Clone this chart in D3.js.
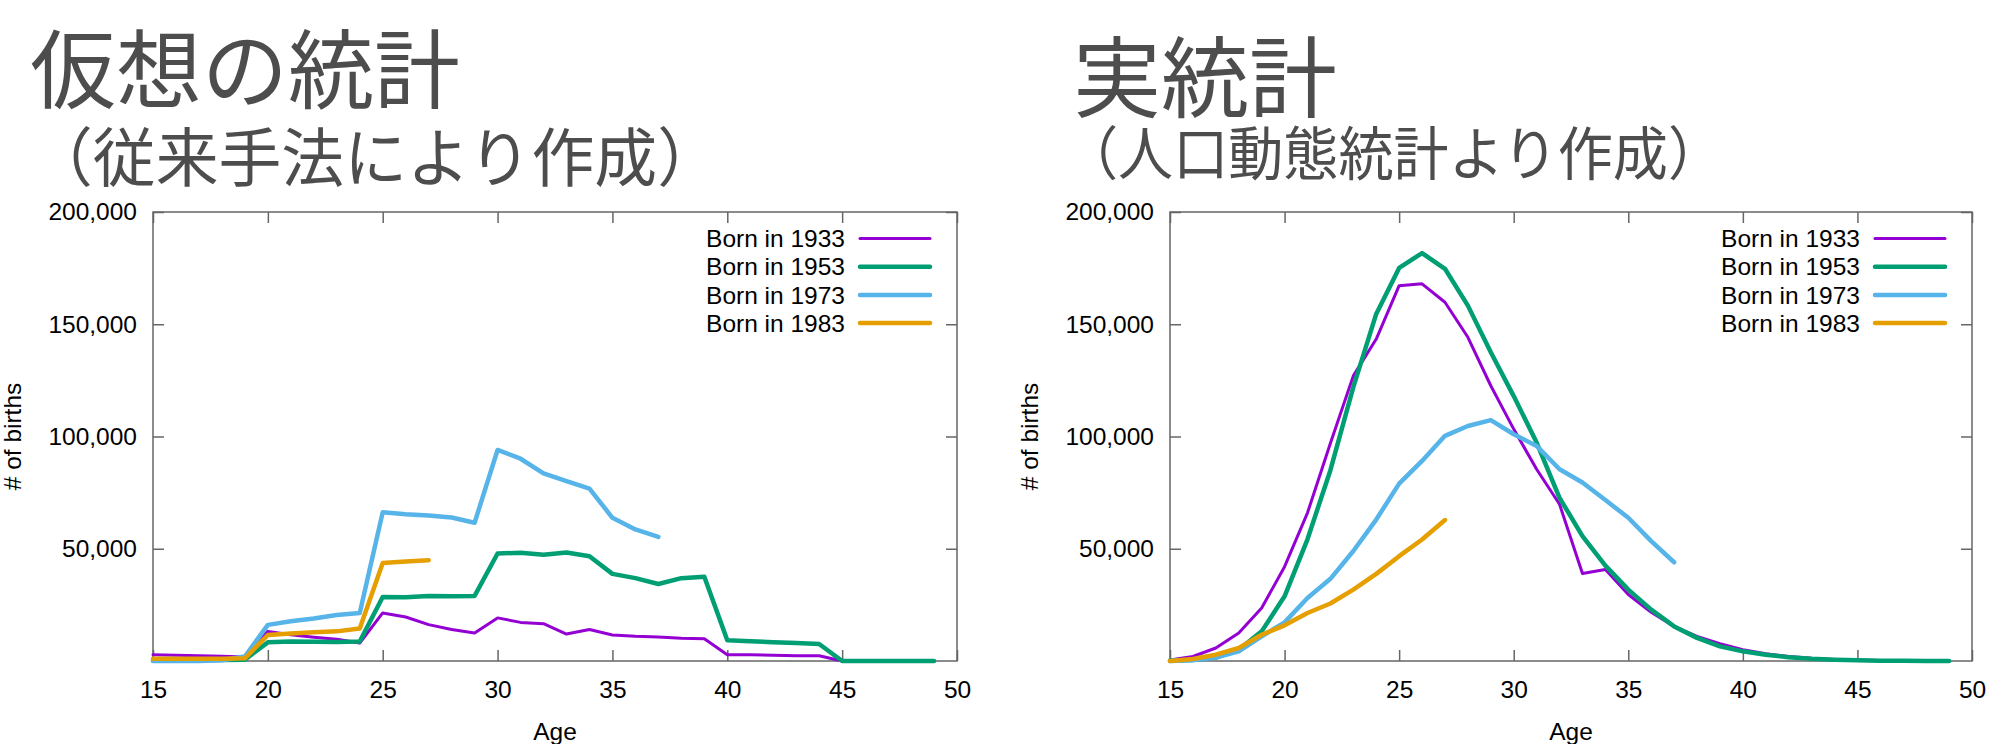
<!DOCTYPE html>
<html>
<head>
<meta charset="utf-8">
<script src="https://cdnjs.cloudflare.com/ajax/libs/d3/7.8.5/d3.min.js"></script>
<style>
  body { margin: 0; background: #fff; }
  text { font-family: "Liberation Sans", Arial, sans-serif; }
  .ttl { font-family: "Noto Sans CJK JP", sans-serif; fill: #4d4d4d; }
</style>
</head>
<body>
<script>
// ages 15..49
var ages = [15,16,17,18,19,20,21,22,23,24,25,26,27,28,29,30,31,32,33,34,35,36,37,38,39,40,41,42,43,44,45,46,47,48,49]
var xTicks = [15,20,25,30,35,40,45,50]
var yTicks = [50000,100000,150000,200000]
var seriesNames = ['Born in 1933','Born in 1953','Born in 1973','Born in 1983']
var colors = ['#9400d3','#009e73','#56b4e9','#e69f00']

// 仮想の統計 (conventional method)
var conv1933 = [2800,2600,2300,2100,1800, 13200,11700,10600,9700,8000, 21400,19600,16200,14000,12500, 19200,17200,16600,12000,14000, 11600,11000,10700,10100,9900, 2800,2800,2600,2300,2300, 0,0,0,0,0]
var conv1953 = [200,300,400,500,600, 8300,8700,8600,8500,8700, 28500,28400,29000,28800,29000, 47900,48200,47300,48300,46700, 38800,36900,34300,36900,37500, 9200,8800,8400,8000,7600, 0,0,0,0,0]
var conv1973 = [0,0,0,300,2000, 16100,17700,18900,20500,21400, 66300,65400,64800,63900,61600, 94000,90100,83600,80100,76800, 63800,58600,55300]
var conv1983 = [1000,1000,1000,1000,1200, 11600,12200,12800,13200,14500, 43700,44300,44900]

// 実統計 (vital statistics)
var vital1933 = [500,2000,5800,12500,23600, 42000,66000,97000,127000,143400, 167200,168000,159800,144200,122600, 103300,85400,69800,39000,40800, 29600,21700,15400,11000,7700, 5000,3200,2000,1200,700, 400,200,100,50,0]
var vital1953 = [200,500,1500,5000,13200, 28800,54200,85000,122000,154600, 175100,181700,174700,158300,137500, 118000,97300,72700,55600,42500, 31800,22900,15400,10300,6500, 4300,2800,1700,1000,600, 300,150,80,40,20]
var vital1973 = [0,300,1500,4300,11000, 17200,28100,36600,49000,63000, 79000,89100,100300,104700,107300, 101000,95800,85400,79500,71700, 63800,53400,44000]
var vital1983 = [0,900,2800,5800,11700, 15900,21400,25600,31800,38800, 46700,54100,62800]

var width = 1990, height = 744
var svg = d3.select('body').append('svg')
    .attr('width', width)
    .attr('height', height)

function title(x, y, size, str, len) {
    var t = svg.append('text')
        .attr('class', 'ttl')
        .attr('x', x).attr('y', y)
        .attr('font-size', size)
        .text(str)
    if (len) t.attr('textLength', len).attr('lengthAdjust', 'spacingAndGlyphs')
}

title(30, 102, 86, '仮想の統計')
title(30, 181, 64, '（従来手法により作成）', 690)
title(1073, 110, 88, '実統計')
title(1063, 175, 58, '（人口動態統計より作成）', 660)

function makePanel(left, right, series, ylabX) {
    var top = 212, bottom = 661
    var x = d3.scaleLinear().domain([15, 50]).range([left, right])
    var y = d3.scaleLinear().domain([0, 200000]).range([bottom, top])
    var g = svg.append('g')

    g.append('g')
        .attr('transform', 'translate(0,' + bottom + ')')
        .call(d3.axisBottom(x).tickValues(xTicks).tickSize(-11).tickSizeOuter(0).tickPadding(20))
    g.append('g')
        .attr('transform', 'translate(0,' + top + ')')
        .call(d3.axisTop(x).tickValues(xTicks).tickSize(-11).tickSizeOuter(0).tickFormat(''))
    g.append('g')
        .attr('transform', 'translate(' + left + ',0)')
        .call(d3.axisLeft(y).tickValues(yTicks).tickSize(-11).tickSizeOuter(0).tickPadding(16).tickFormat(d3.format(',')))
    g.append('g')
        .attr('transform', 'translate(' + right + ',0)')
        .call(d3.axisRight(y).tickValues(yTicks).tickSize(-11).tickSizeOuter(0).tickFormat(''))

    g.selectAll('.domain').remove()
    g.selectAll('.tick line').attr('stroke', '#666').attr('stroke-width', 1.5)
    g.selectAll('.tick text')
        .attr('font-size', 24.5)
        .attr('fill', '#000')
        .style('font-family', '"Liberation Sans", Arial, sans-serif')

    g.append('rect')
        .attr('x', left).attr('y', top)
        .attr('width', right - left).attr('height', bottom - top)
        .attr('fill', 'none')
        .attr('stroke', '#666')
        .attr('stroke-width', 1.5)

    var line = d3.line()
        .x(function(d, i) { return x(ages[i]) })
        .y(function(d) { return y(d) })

    series.forEach(function(s, i) {
        g.append('path')
            .attr('d', line(s))
            .attr('fill', 'none')
            .attr('stroke', colors[i])
            .attr('stroke-width', i == 0 ? 3 : 4.5)
            .attr('stroke-linejoin', 'round')
            .attr('stroke-linecap', 'round')
    })

    // legend
    var leg = g.append('g')
    seriesNames.forEach(function(name, i) {
        var cy = 238.5 + i * 28.2
        leg.append('text')
            .attr('x', right - 112)
            .attr('y', cy + 8.7)
            .attr('text-anchor', 'end')
            .attr('font-size', 24.5)
            .text(name)
        leg.append('line')
            .attr('x1', right - 97).attr('x2', right - 27)
            .attr('y1', cy).attr('y2', cy)
            .attr('stroke', colors[i])
            .attr('stroke-width', i == 0 ? 3 : 4.5)
            .attr('stroke-linecap', 'round')
    })

    svg.append('text')
        .attr('transform', 'translate(' + ylabX + ',' + ((top + bottom) / 2) + ') rotate(-90)')
        .attr('text-anchor', 'middle')
        .attr('font-size', 24.5)
        .text('# of births')

    svg.append('text')
        .attr('x', (left + right) / 2)
        .attr('y', 740)
        .attr('text-anchor', 'middle')
        .attr('font-size', 24.5)
        .text('Age')
}

makePanel(153, 957, [conv1933, conv1953, conv1973, conv1983], 21)
makePanel(1170, 1972, [vital1933, vital1953, vital1973, vital1983], 1038)
</script>
</body>
</html>
